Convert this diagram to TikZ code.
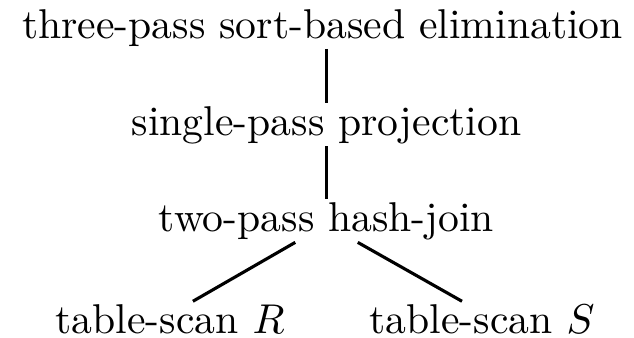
\documentclass[tikz,border=0pt]{standalone}
\usepackage{amsmath, amssymb}
\tikzset{every picture/.style={line width=0.75pt}}
\tikzset{plannode/.style={anchor=base, inner sep=0.3pt, font=\normalsize}}

\begin{document}
\begin{tikzpicture}[x=0.24pt,y=0.24pt,yscale=-1,xscale=1]
\useasboundingbox (0,0) rectangle (634,337);

% Text Node
\node [plannode] (elim) at (322.5,38) {three-pass sort-based elimination};
% Text Node
\node [plannode] (proj) at (326.5,135) {single-pass projection};
% Text Node
\node [plannode] (join) at (326.5,231) {two-pass hash-join};
% Text Node
\node [plannode] (scanR) at (170,333) {table-scan $R$};
% Text Node
\node [plannode] (scanS) at (482,333) {table-scan $S$};

%Straight Lines
\draw (elim.south -| proj.north) -- (proj.north) ;
%Straight Lines
\draw (proj.south) -- (join.north) ;
%Straight Lines
\draw ([xshift=-7.5pt]join.south) -- ([xshift=5.5pt]scanR.north) ;
%Straight Lines
\draw ([xshift=7.5pt]join.south) -- ([xshift=-4.8pt]scanS.north) ;

\end{tikzpicture}
\end{document}
